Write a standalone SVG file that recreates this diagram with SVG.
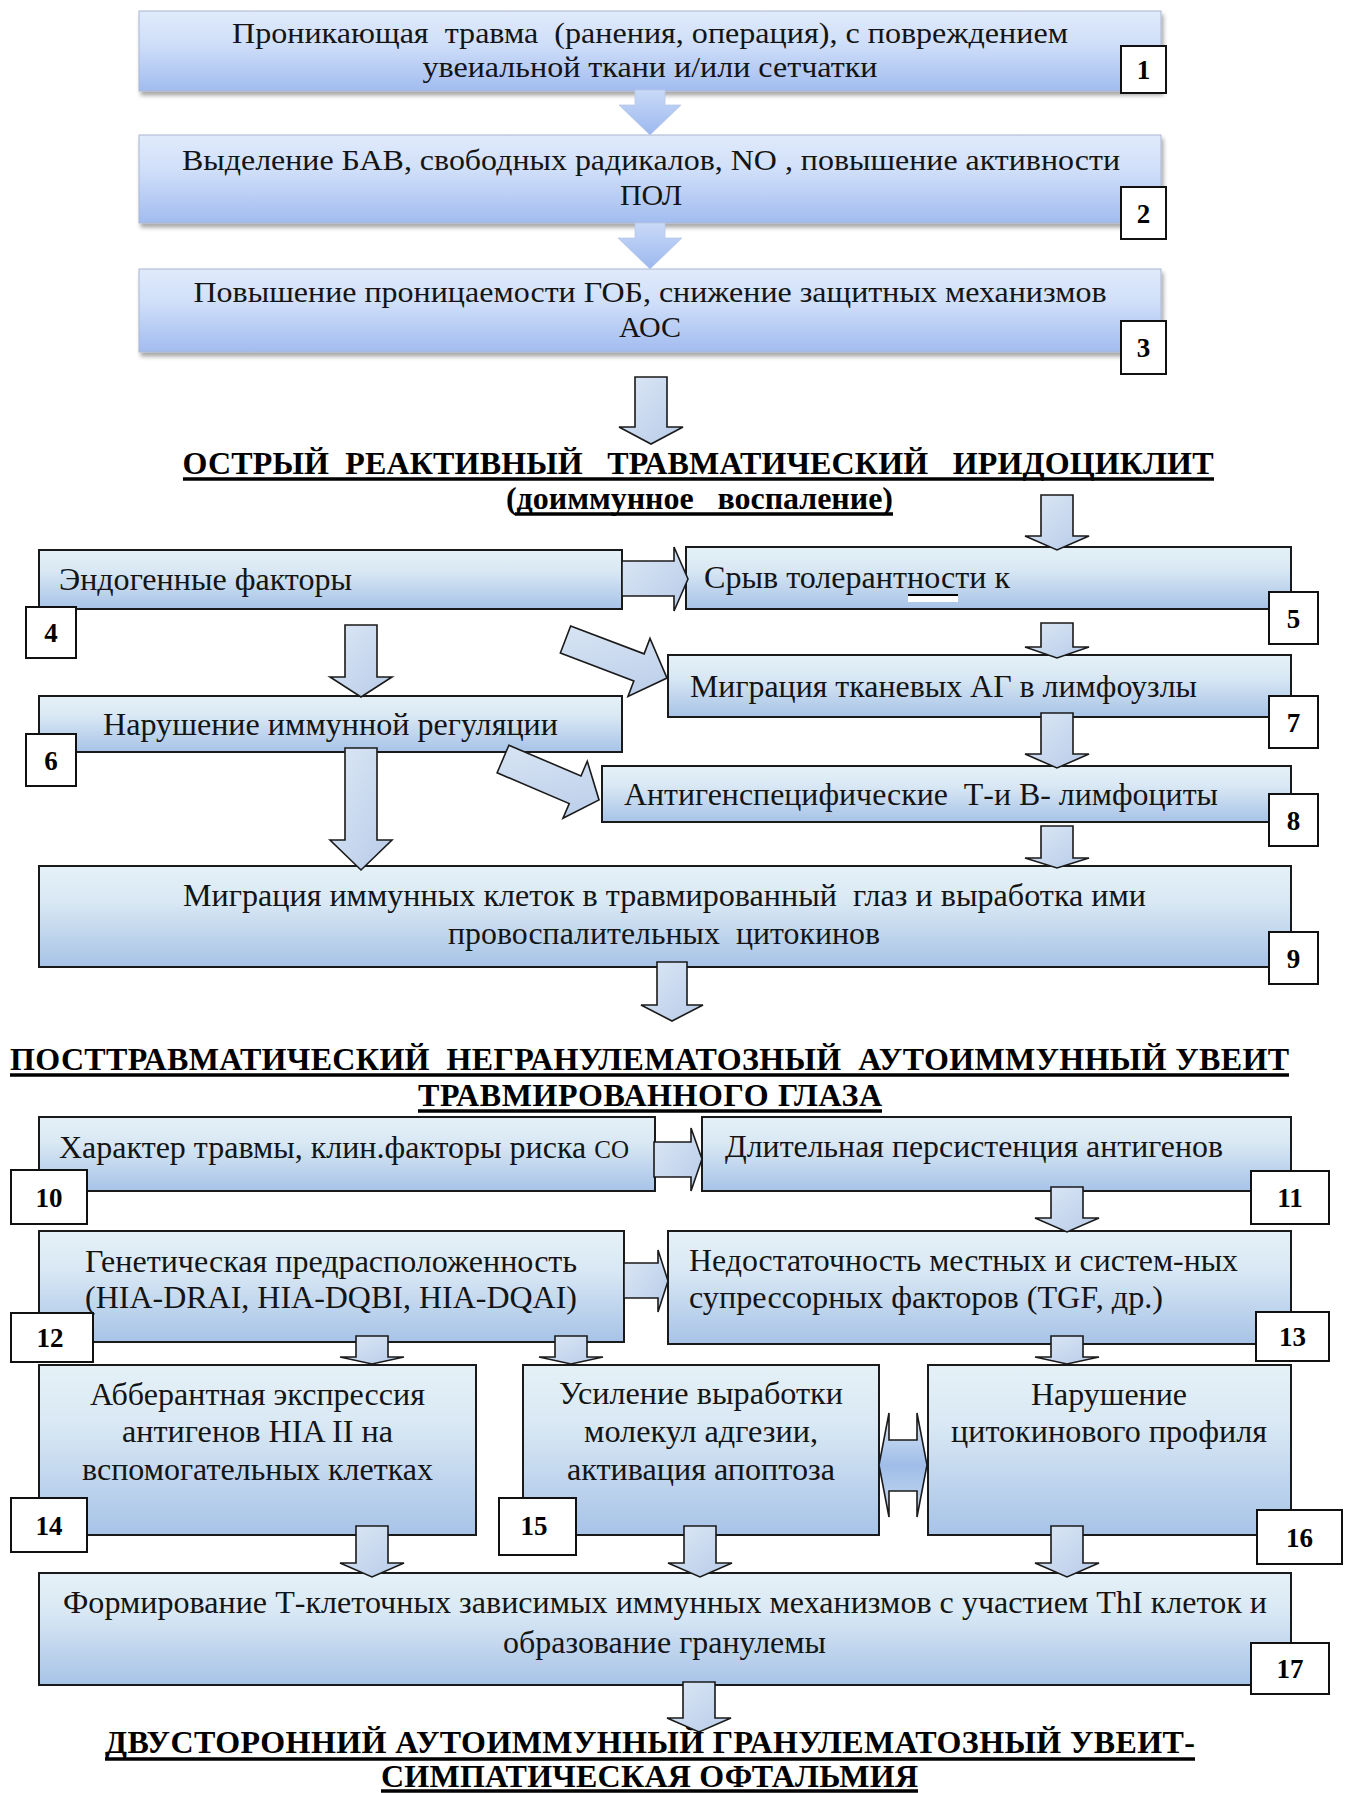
<svg xmlns="http://www.w3.org/2000/svg" width="1347" height="1793" viewBox="0 0 1347 1793" font-family="Liberation Serif, Times New Roman, serif">
<style>
.t{font-size:32px;fill:#141414;white-space:pre}
.tt{font-size:30px;fill:#141414;white-space:pre}
.tl{text-anchor:start}
.tc{text-anchor:middle}
.h{font-size:32px;font-weight:bold;fill:#000;white-space:pre;text-anchor:middle}
.ul{stroke:#000;stroke-width:3.5}
.box{fill:url(#gBox);stroke:#1a1a1a;stroke-width:2}
.tbox{fill:url(#gTop);stroke:#aab6cf;stroke-width:1;filter:url(#sh)}
.num{fill:#fff;stroke:#111;stroke-width:2}
.nt{font-size:27px;font-weight:bold;fill:#000;text-anchor:middle}
.arr{fill:url(#gArr);stroke:#1a1a1a;stroke-width:1.6;stroke-linejoin:miter}
.tarr{fill:url(#gTopArr);stroke:#b8c8e6;stroke-width:0.8}
</style>
<defs>
<linearGradient id="gBox" x1="0" y1="0" x2="0" y2="1">
<stop offset="0" stop-color="#e5f1f7"/>
<stop offset="0.35" stop-color="#d9e8f4"/>
<stop offset="1" stop-color="#a7c3e7"/>
</linearGradient>
<linearGradient id="gTop" x1="0" y1="0" x2="0" y2="1">
<stop offset="0" stop-color="#e0eafb"/>
<stop offset="0.4" stop-color="#d0dff9"/>
<stop offset="1" stop-color="#a2bcf0"/>
</linearGradient>
<linearGradient id="gArr" x1="0" y1="0" x2="1" y2="1">
<stop offset="0" stop-color="#dde8f6"/>
<stop offset="1" stop-color="#b7cbe8"/>
</linearGradient>
<linearGradient id="gTopArr" x1="0" y1="0" x2="0" y2="1">
<stop offset="0" stop-color="#c9daf7"/>
<stop offset="1" stop-color="#9cb8ef"/>
</linearGradient>
<linearGradient id="gDbl" x1="0" y1="0" x2="0" y2="1">
<stop offset="0" stop-color="#dce8f6"/>
<stop offset="0.5" stop-color="#9fbde8"/>
<stop offset="1" stop-color="#c9dbf1"/>
</linearGradient>
<filter id="sh" x="-5%" y="-20%" width="110%" height="150%">
<feDropShadow dx="2" dy="4" stdDeviation="2" flood-color="#000" flood-opacity="0.35"/>
</filter>
</defs>

<g id="n1">
<rect class="tbox" x="139" y="11" width="1022" height="80"/>
<text class="tt tc" x="650" y="43" textLength="836" lengthAdjust="spacingAndGlyphs">Проникающая  травма  (ранения, операция), с повреждением</text>
<text class="tt tc" x="650" y="77" textLength="455" lengthAdjust="spacingAndGlyphs">увеиальной ткани и/или сетчатки</text>
</g>
<g id="n2">
<rect class="tbox" x="139" y="135" width="1022" height="88"/>
<text class="tt tc" x="651" y="170" textLength="938" lengthAdjust="spacingAndGlyphs">Выделение БАВ, свободных радикалов, NO , повышение активности</text>
<text class="tt tc" x="651" y="205">ПОЛ</text>
</g>
<g id="n3">
<rect class="tbox" x="139" y="269" width="1022" height="83"/>
<text class="tt tc" x="650" y="302" textLength="913" lengthAdjust="spacingAndGlyphs">Повышение проницаемости ГОБ, снижение защитных механизмов</text>
<text class="tt tc" x="650" y="337">АОС</text>
</g>

<g id="title1">
<text class="h" x="698" y="474" textLength="1031">ОСТРЫЙ  РЕАКТИВНЫЙ   ТРАВМАТИЧЕСКИЙ   ИРИДОЦИКЛИТ</text>
<line class="ul" x1="183" y1="479" x2="1214" y2="479"/>
<text class="h" x="699.5" y="509" textLength="387">(доиммунное   воспаление)</text>
<line class="ul" x1="515" y1="514" x2="893" y2="514"/>
</g>

<g id="n4">
<rect class="box" x="39" y="550" width="583" height="59"/>
<text class="t tl" x="59" y="590" textLength="293" lengthAdjust="spacingAndGlyphs">Эндогенные факторы</text>
</g>
<g id="n5">
<rect class="box" x="686" y="547" width="605" height="62"/>
<text class="t tl" x="704" y="588" textLength="306" lengthAdjust="spacingAndGlyphs">Срыв толерантности к</text>
<rect x="908" y="595" width="50" height="7" fill="#fff"/>
<line x1="908" y1="595" x2="958" y2="595" stroke="#000" stroke-width="2"/>
</g>
<g id="n6">
<rect class="box" x="39" y="696" width="583" height="56"/>
<text class="t tc" x="330.5" y="735" textLength="455" lengthAdjust="spacingAndGlyphs">Нарушение иммунной регуляции</text>
</g>
<g id="n7">
<rect class="box" x="668" y="655" width="623" height="62"/>
<text class="t tl" x="690" y="697" textLength="507" lengthAdjust="spacingAndGlyphs">Миграция тканевых АГ в лимфоузлы</text>
</g>
<g id="n8">
<rect class="box" x="602" y="766" width="689" height="56"/>
<text class="t tl" x="624" y="805" textLength="594" lengthAdjust="spacingAndGlyphs">Антигенспецифические  Т-и В- лимфоциты</text>
</g>
<g id="n9">
<rect class="box" x="39" y="866" width="1252" height="101"/>
<text class="t tc" x="664.5" y="906" textLength="963" lengthAdjust="spacingAndGlyphs">Миграция иммунных клеток в травмированный  глаз и выработка ими</text>
<text class="t tc" x="664" y="944" textLength="432" lengthAdjust="spacingAndGlyphs">провоспалительных  цитокинов</text>
</g>

<g id="title2">
<text class="h" x="649.5" y="1070" textLength="1279">ПОСТТРАВМАТИЧЕСКИЙ  НЕГРАНУЛЕМАТОЗНЫЙ  АУТОИММУННЫЙ УВЕИТ</text>
<line class="ul" x1="10" y1="1075" x2="1289" y2="1075"/>
<text class="h" x="650" y="1106" textLength="464">ТРАВМИРОВАННОГО ГЛАЗА</text>
<line class="ul" x1="418" y1="1111" x2="882" y2="1111"/>
</g>

<g id="n10">
<rect class="box" x="39" y="1117" width="616" height="74"/>
<text class="t tl" x="59" y="1158">Характер травмы, клин.факторы риска <tspan font-size="25">СО</tspan></text>
</g>
<g id="n11">
<rect class="box" x="702" y="1117" width="589" height="74"/>
<text class="t tl" x="725" y="1157" textLength="498" lengthAdjust="spacingAndGlyphs">Длительная персистенция антигенов</text>
</g>
<g id="n12">
<rect class="box" x="39" y="1231" width="585" height="111"/>
<text class="t tc" x="331" y="1272" textLength="492" lengthAdjust="spacingAndGlyphs">Генетическая предрасположенность</text>
<text class="t tc" x="331" y="1308" textLength="492" lengthAdjust="spacingAndGlyphs">(HIA-DRAI, HIA-DQBI, HIA-DQAI)</text>
</g>
<g id="n13">
<rect class="box" x="668" y="1231" width="623" height="113"/>
<text class="t tl" x="689" y="1271" textLength="549" lengthAdjust="spacingAndGlyphs">Недостаточность местных и систем-ных</text>
<text class="t tl" x="689" y="1308" textLength="474" lengthAdjust="spacingAndGlyphs">супрессорных факторов (TGF, др.)</text>
</g>
<g id="n14">
<rect class="box" x="39" y="1365" width="437" height="170"/>
<text class="t tc" x="257.5" y="1405" textLength="335" lengthAdjust="spacingAndGlyphs">Абберантная экспрессия</text>
<text class="t tc" x="257.5" y="1442" textLength="271" lengthAdjust="spacingAndGlyphs">антигенов HIA II на</text>
<text class="t tc" x="257.5" y="1480" textLength="351" lengthAdjust="spacingAndGlyphs">вспомогательных клетках</text>
</g>
<g id="n15">
<rect class="box" x="523" y="1365" width="356" height="170"/>
<text class="t tc" x="701" y="1404" textLength="284" lengthAdjust="spacingAndGlyphs">Усиление выработки</text>
<text class="t tc" x="701" y="1442" textLength="234" lengthAdjust="spacingAndGlyphs">молекул адгезии,</text>
<text class="t tc" x="701" y="1480" textLength="268" lengthAdjust="spacingAndGlyphs">активация апоптоза</text>
</g>
<g id="n16">
<rect class="box" x="928" y="1365" width="363" height="170"/>
<text class="t tc" x="1109" y="1405" textLength="156" lengthAdjust="spacingAndGlyphs">Нарушение</text>
<text class="t tc" x="1109" y="1442" textLength="316" lengthAdjust="spacingAndGlyphs">цитокинового профиля</text>
</g>
<g id="n17">
<rect class="box" x="39" y="1573" width="1252" height="112"/>
<text class="t tc" x="665" y="1613" textLength="1204" lengthAdjust="spacingAndGlyphs">Формирование Т-клеточных зависимых иммунных механизмов с участием ThI клеток и</text>
<text class="t tc" x="664.5" y="1653" textLength="323" lengthAdjust="spacingAndGlyphs">образование гранулемы</text>
</g>

<g id="title3">
<text class="h" x="650" y="1753" textLength="1090">ДВУСТОРОННИЙ АУТОИММУННЫЙ ГРАНУЛЕМАТОЗНЫЙ УВЕИТ-</text>
<line class="ul" x1="105" y1="1759" x2="1195" y2="1759"/>
<text class="h" x="649.5" y="1787" textLength="537">СИМПАТИЧЕСКАЯ ОФТАЛЬМИЯ</text>
<line class="ul" x1="381" y1="1791" x2="918" y2="1791"/>
</g>

<g id="connectors">
<polygon class="tarr" points="635,90 665,90 665,105 681,105 650,135 619,105 635,105"/>
<polygon class="tarr" points="635,223 665,223 665,238 682,238 650,269 618,238 635,238"/>
<polygon class="arr" points="635,377 667,377 667,427 683,427 651,444 619,427 635,427"/>
<polygon class="arr" points="1041,495 1073,495 1073,536 1089,536 1057,550 1025,536 1041,536"/>
<polygon class="arr" points="622,561 674,561 674,547 688,579 674,611 674,596 622,596"/>
<polygon class="arr" points="1041,623 1073,623 1073,647 1089,647 1057,658 1025,647 1041,647"/>
<polygon class="arr" points="345,625 377,625 377,677 392,677 361,697 330,677 345,677"/>
<polygon class="arr" transform="translate(565.5,639.5) rotate(20.8)" points="0,-14.5 78.6,-14.5 78.6,-31 108.6,0 78.6,31 78.6,14.5 0,14.5"/>
<polygon class="arr" points="1041,713 1073,713 1073,754 1089,754 1057,768 1025,754 1041,754"/>
<polygon class="arr" transform="translate(503,759) rotate(23.1)" points="0,-15 78.4,-15 78.4,-31 104.4,0 78.4,31 78.4,15 0,15"/>
<polygon class="arr" points="345,748 377,748 377,840 392,840 361,870 330,840 345,840"/>
<polygon class="arr" points="1041,826 1073,826 1073,858 1089,858 1057,868 1025,858 1041,858"/>
<polygon class="arr" points="657,962 687,962 687,1005 703,1005 672,1021 641,1005 657,1005"/>
<polygon class="arr" points="654,1142 691,1142 691,1128 702,1159 691,1191 691,1177 654,1177"/>
<polygon class="arr" points="1051,1187 1083,1187 1083,1218 1099,1218 1067,1232 1035,1218 1051,1218"/>
<polygon class="arr" points="624,1263 658,1263 658,1250 668,1281 658,1312 658,1298 624,1298"/>
<polygon class="arr" points="356,1336 388,1336 388,1357 404,1357 372,1364 340,1357 356,1357"/>
<polygon class="arr" points="555,1336 587,1336 587,1357 603,1357 571,1364 539,1357 555,1357"/>
<polygon class="arr" points="1051,1336 1083,1336 1083,1357 1099,1357 1067,1364 1035,1357 1051,1357"/>
<polygon points="879,1465 889,1413 889,1440 917,1440 917,1413 927,1465 917,1517 917,1491 889,1491 889,1517" fill="url(#gDbl)" stroke="#1a1a1a" stroke-width="1.6"/>
<polygon class="arr" points="356,1526 388,1526 388,1563 404,1563 372,1577 340,1563 356,1563"/>
<polygon class="arr" points="684,1526 716,1526 716,1563 732,1563 700,1577 668,1563 684,1563"/>
<polygon class="arr" points="1051,1526 1083,1526 1083,1563 1099,1563 1067,1577 1035,1563 1051,1563"/>
<polygon class="arr" points="683,1682 715,1682 715,1718 731,1718 699,1732 667,1718 683,1718"/>
</g>

<g id="numbers">
<g id="num1"><rect class="num" x="1121" y="46" width="45" height="47"/><text class="nt" x="1143.5" y="79">1</text></g>
<g id="num2"><rect class="num" x="1121" y="187" width="45" height="52"/><text class="nt" x="1143.5" y="223">2</text></g>
<g id="num3"><rect class="num" x="1121" y="321" width="45" height="53"/><text class="nt" x="1143.5" y="357">3</text></g>
<g id="num4"><rect class="num" x="26" y="607" width="50" height="51"/><text class="nt" x="51" y="642">4</text></g>
<g id="num5"><rect class="num" x="1269" y="592" width="49" height="52"/><text class="nt" x="1293.5" y="628">5</text></g>
<g id="num6"><rect class="num" x="26" y="734" width="50" height="52"/><text class="nt" x="51" y="770">6</text></g>
<g id="num7"><rect class="num" x="1269" y="696" width="49" height="52"/><text class="nt" x="1293.5" y="732">7</text></g>
<g id="num8"><rect class="num" x="1269" y="794" width="49" height="52"/><text class="nt" x="1293.5" y="830">8</text></g>
<g id="num9"><rect class="num" x="1269" y="932" width="49" height="52"/><text class="nt" x="1293.5" y="968">9</text></g>
<g id="num10"><rect class="num" x="11" y="1170" width="76" height="54"/><text class="nt" x="49" y="1207">10</text></g>
<g id="num11"><rect class="num" x="1251" y="1171" width="78" height="53"/><text class="nt" x="1290" y="1207">11</text></g>
<g id="num12"><rect class="num" x="11" y="1313" width="82" height="49"/><text class="nt" x="50" y="1347">12</text></g>
<g id="num13"><rect class="num" x="1256" y="1312" width="73" height="49"/><text class="nt" x="1292.5" y="1346">13</text></g>
<g id="num14"><rect class="num" x="11" y="1498" width="76" height="54"/><text class="nt" x="49" y="1535">14</text></g>
<g id="num15"><rect class="num" x="499" y="1498" width="77" height="57"/><text class="nt" x="534" y="1535">15</text></g>
<g id="num16"><rect class="num" x="1257" y="1510" width="85" height="54"/><text class="nt" x="1299.5" y="1547">16</text></g>
<g id="num17"><rect class="num" x="1251" y="1643" width="78" height="51"/><text class="nt" x="1290" y="1678">17</text></g>
</g>
</svg>
